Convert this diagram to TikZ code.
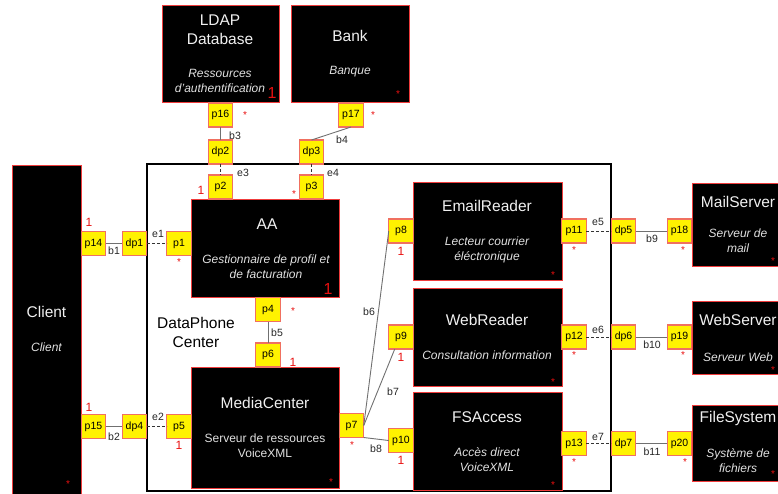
\documentclass[tikz,border=0pt]{standalone}
\usepackage{fontspec}
\setmainfont{Liberation Sans}
\usetikzlibrary{calc}
\definecolor{boxred}{HTML}{F03C3C}
\definecolor{portred}{HTML}{F07060}
\definecolor{multred}{HTML}{E81010}
\definecolor{lnk}{HTML}{707070}
\begin{document}
\begin{tikzpicture}[x=1pt,y=-1pt,
 box/.style={draw=boxred, fill=black, line width=0.9pt, inner sep=0pt, outer sep=0pt, anchor=north west},
 port/.style={draw=portred, fill=yellow, line width=1.1pt, minimum width=24.5pt, minimum height=24pt, inner sep=0pt, outer sep=0pt, font=\fontsize{10.5}{10.5}\selectfont},
 ttl/.style={text=white!94!black, font=\fontsize{15.5}{19}\selectfont, align=center, inner sep=0pt},
 sub/.style={text=white!88!black, font=\fontsize{12}{15}\selectfont\itshape, align=center, inner sep=0pt},
 subup/.style={text=white!88!black, font=\fontsize{12}{15}\selectfont, align=center, inner sep=0pt},
 mul/.style={text=multred, font=\fontsize{12}{12}\selectfont, inner sep=0pt},
 bigmul/.style={text=multred, font=\fontsize{16}{16}\selectfont, inner sep=0pt},
 star/.style={text=multred, font=\fontsize{10}{10}\selectfont, inner sep=0pt, yshift=-2pt},
 lbl/.style={text=black!85, font=\fontsize{10.5}{10.5}\selectfont, inner sep=0pt},
 bline/.style={draw=lnk, line width=0.9pt},
 eline/.style={draw=black!80, line width=0.9pt, dash pattern=on 3pt off 2pt}]

\useasboundingbox (0,0) rectangle (778,493);

% DataPhone Center container
\node[draw=black, line width=2.6pt, anchor=north west, minimum width=464pt, minimum height=327pt, inner sep=0pt, outer sep=0pt] (dpc) at (147,164) {};
\node[text=black, font=\fontsize{15.5}{19}\selectfont, align=center, inner sep=0pt] (dpct) at (196,332.5) {DataPhone\\Center};

% components
\node[box, minimum width=117pt, minimum height=97pt] (ldap) at (162,5) {};
\node[box, minimum width=118pt, minimum height=97pt] (bank) at (291,5) {};
\node[box, minimum width=69pt, minimum height=335pt] (client) at (12,165) {};
\node[box, minimum width=148pt, minimum height=98pt] (aa) at (191,199) {};
\node[box, minimum width=148pt, minimum height=121pt] (mc) at (191,367) {};
\node[box, minimum width=149pt, minimum height=98pt] (er) at (413,182) {};
\node[box, minimum width=149pt, minimum height=98pt] (wr) at (413,288) {};
\node[box, minimum width=149pt, minimum height=98pt] (fs) at (413,392) {};
\node[box, minimum width=92pt, minimum height=83pt] (ms) at (692,183) {};
\node[box, minimum width=92pt, minimum height=73pt] (ws) at (692,301) {};
\node[box, minimum width=92pt, minimum height=76pt] (fsys) at (692,405) {};

% component texts
\node[ttl] (ldapt) at (220,29.5) {LDAP\\Database};
\node[sub, font=\fontsize{12}{14.5}\selectfont\itshape] (ldaps) at (220,81) {Ressources\\d’authentification};
\node[bigmul] (ldapm) at (272,93) {1};
\node[ttl] (bankt) at (350,36) {Bank};
\node[sub] (banks) at (350,72) {Banque};
\node[star] (bankm) at (398,92) {*};
\node[ttl] (clientt) at (46.5,312) {Client};
\node[sub] (clients) at (46.5,347) {Client};
\node[star] (clientm) at (68,482) {*};
\node[ttl] (aat) at (267,224) {AA};
\node[sub] (aas) at (266,266.5) {Gestionnaire de profil et\\de facturation};
\node[bigmul] (aam) at (328,289) {1};
\node[ttl] (mct) at (265,403) {MediaCenter};
\node[subup] (mcs) at (265,445.5) {Serveur de ressources\\VoiceXML};
\node[star] (mcm) at (331,480) {*};
\node[ttl] (ert) at (487,206) {EmailReader};
\node[sub] (ers) at (487,250) {Lecteur courrier\\éléctronique};
\node[star] (erm) at (553,273) {*};
\node[ttl] (wrt) at (487,320) {WebReader};
\node[sub] (wrs) at (487,355) {Consultation information};
\node[star] (wrm) at (553,380) {*};
\node[ttl] (fst) at (487,417) {FSAccess};
\node[sub] (fss) at (487,459.5) {Accès direct\\VoiceXML};
\node[star] (fsm) at (553,483) {*};
\node[ttl] (mst) at (738,202) {MailServer};
\node[sub] (mss) at (738,240.5) {Serveur de\\mail};
\node[star] (msm) at (773,259) {*};
\node[ttl] (wst) at (738,320) {WebServer};
\node[sub] (wss) at (738,357) {Serveur Web};
\node[star] (wsm) at (773,368) {*};
\node[ttl] (fsyst) at (738,418) {FileSystem};
\node[sub] (fsyss) at (738,461) {Système de\\fichiers};
\node[star] (fsysm) at (773,472) {*};

% ports
\node[port] (p16) at (220.5,115) {p16};
\node[port] (p17) at (351,115) {p17};
\node[port] (dp2) at (220.5,152) {dp2};
\node[port] (dp3) at (311.5,152) {dp3};
\node[port] (p2) at (220.5,187) {p2};
\node[port] (p3) at (311.5,187) {p3};
\node[port] (p14) at (93.5,243.5) {p14};
\node[port] (dp1) at (134.5,243.5) {dp1};
\node[port] (p1) at (179,243.5) {p1};
\node[port] (p15) at (93.5,426.5) {p15};
\node[port] (dp4) at (134.5,426.5) {dp4};
\node[port] (p5) at (179,426.5) {p5};
\node[port] (p4) at (268,309.5) {p4};
\node[port] (p6) at (268,355) {p6};
\node[port] (p7) at (351.5,425.5) {p7};
\node[port] (p8) at (401,231) {p8};
\node[port] (p9) at (401,337) {p9};
\node[port] (p10) at (401,440.5) {p10};
\node[port] (p11) at (574,231) {p11};
\node[port] (p12) at (574,337) {p12};
\node[port] (p13) at (574,443.5) {p13};
\node[port] (dp5) at (623.5,231) {dp5};
\node[port] (dp6) at (623.5,337) {dp6};
\node[port] (dp7) at (623.5,443.5) {dp7};
\node[port] (p18) at (679.5,231) {p18};
\node[port] (p19) at (679.5,337) {p19};
\node[port] (p20) at (679.5,443.5) {p20};

% connectors
\draw[bline] (p16.south) -- (dp2.north);
\draw[bline] (p17.south) -- (dp3.north);
\draw[eline] (dp2.south) -- (p2.north);
\draw[eline] (dp3.south) -- (p3.north);
\draw[bline] (p14.east) -- (dp1.west);
\draw[eline] (dp1.east) -- (p1.west);
\draw[bline] (p15.east) -- (dp4.west);
\draw[eline] (dp4.east) -- (p5.west);
\draw[bline] (p4.south) -- (p6.north);
\draw[bline] (p7.east) -- (p8.west);
\draw[bline] (p7.east) -- ($(p9.south west)+(6,0)$);
\draw[bline] (p7.south east) -- (p10.west);
\draw[eline] (p11.east) -- (dp5.west);
\draw[eline] (p12.east) -- (dp6.west);
\draw[eline] (p13.east) -- (dp7.west);
\draw[bline] (dp5.east) -- (p18.west);
\draw[bline] (dp6.east) -- (p19.west);
\draw[bline] (dp7.east) -- (p20.west);

% connector labels
\node[lbl] (lb3) at (235,136) {b3};
\node[lbl] (lb4) at (342,140) {b4};
\node[lbl] (le3) at (243,173) {e3};
\node[lbl] (le4) at (333,173) {e4};
\node[lbl] (lb1) at (114,251) {b1};
\node[lbl] (le1) at (158,234) {e1};
\node[lbl] (lb2) at (114,437) {b2};
\node[lbl] (le2) at (158,417) {e2};
\node[lbl] (lb5) at (277,333) {b5};
\node[lbl] (lb6) at (369,312) {b6};
\node[lbl] (lb7) at (393,392) {b7};
\node[lbl] (lb8) at (376,449) {b8};
\node[lbl] (le5) at (598,222) {e5};
\node[lbl] (le6) at (598,330) {e6};
\node[lbl] (le7) at (598,437) {e7};
\node[lbl] (lb9) at (652,239) {b9};
\node[lbl] (lb10) at (652,345) {b10};
\node[lbl] (lb11) at (652,452) {b11};

% port multiplicities
\node[star] (m16) at (245,113) {*};
\node[star] (m17) at (373,113) {*};
\node[mul] (m2) at (201,190) {1};
\node[star] (m3) at (294,192) {*};
\node[mul] (m14) at (89,222) {1};
\node[star] (m1) at (179,260) {*};
\node[mul] (m15) at (89,407) {1};
\node[mul] (m5) at (179,445) {1};
\node[star] (m4) at (293,309) {*};
\node[mul] (m6) at (293,362) {1};
\node[star] (m7) at (352,443) {*};
\node[mul] (m8) at (401,251) {1};
\node[mul] (m9) at (401,357) {1};
\node[mul] (m10) at (401,460) {1};
\node[star] (m11) at (574,248) {*};
\node[star] (m12) at (574,353) {*};
\node[star] (m13) at (574,460) {*};
\node[star] (m18) at (683,248) {*};
\node[star] (m19) at (683,353) {*};
\node[star] (m20) at (685,460) {*};
\end{tikzpicture}
\end{document}
